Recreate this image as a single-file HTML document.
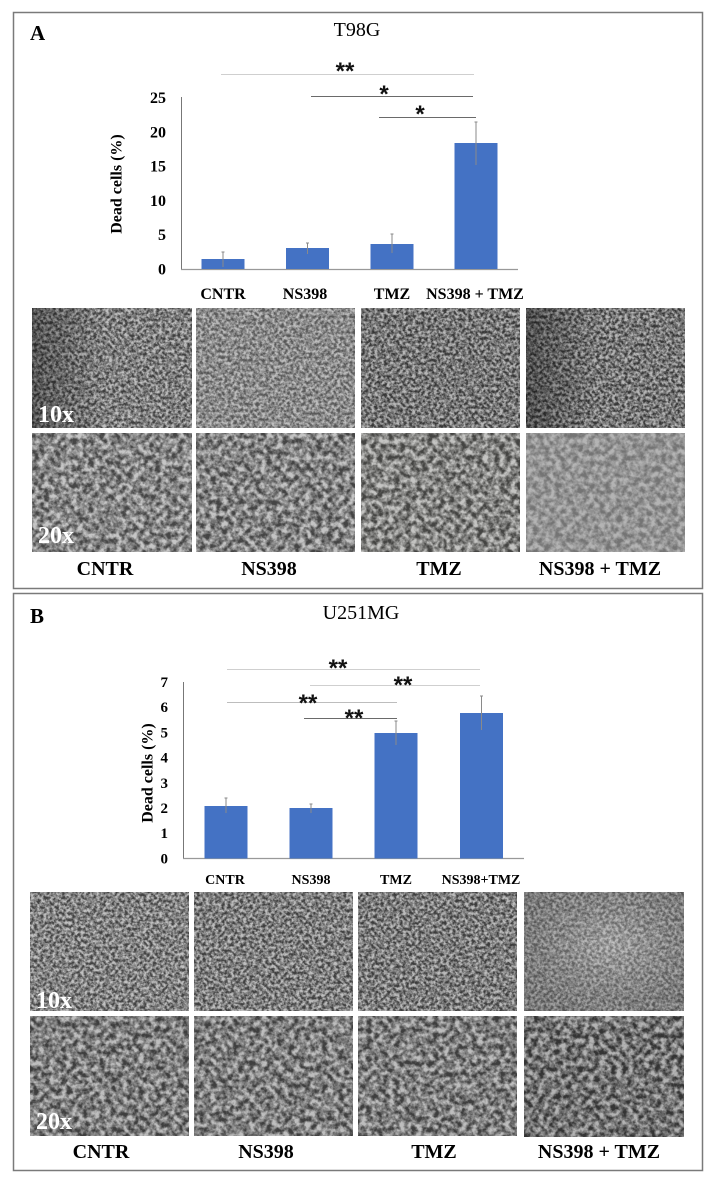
<!DOCTYPE html>
<html><head><meta charset="utf-8"><style>
html,body{margin:0;padding:0;background:#fff;}
svg{display:block;}
.ser{font-family:"Liberation Serif",serif;}
.b{font-weight:bold;}
.st{font-family:"Liberation Sans",sans-serif;font-weight:bold;font-size:24px;fill:#111;}
</style></head><body>
<svg width="712" height="1180" viewBox="0 0 712 1180" xmlns="http://www.w3.org/2000/svg">
<defs>
<filter id="nz" x="0" y="0" width="100%" height="100%" color-interpolation-filters="sRGB">
<feTurbulence type="fractalNoise" baseFrequency="0.32" numOctaves="3" seed="7"/>
<feColorMatrix type="matrix" values="2.4 0 0 0 -0.7  2.4 0 0 0 -0.7  2.4 0 0 0 -0.7  0 0 0 0 0.5"/>
</filter>
<filter id="nz2" x="0" y="0" width="100%" height="100%" color-interpolation-filters="sRGB">
<feTurbulence type="fractalNoise" baseFrequency="0.18" numOctaves="3" seed="21"/>
<feColorMatrix type="matrix" values="2.4 0 0 0 -0.7  2.4 0 0 0 -0.7  2.4 0 0 0 -0.7  0 0 0 0 0.5"/>
</filter>
<linearGradient id="dl" x1="0" y1="0" x2="1" y2="0">
<stop offset="0" stop-color="#000" stop-opacity="0.35"/><stop offset="0.45" stop-color="#000" stop-opacity="0"/>
</linearGradient>
<radialGradient id="lc" cx="0.55" cy="0.45" r="0.6">
<stop offset="0" stop-color="#fff" stop-opacity="0.18"/><stop offset="1" stop-color="#000" stop-opacity="0.12"/>
</radialGradient>
</defs>
<rect width="712" height="1180" fill="#fff"/>

<!-- Panel boxes -->
<rect x="13.5" y="12.5" width="689" height="576" fill="none" stroke="#7a7a7a" stroke-width="1.5"/>
<rect x="13.5" y="593.5" width="689" height="577" fill="none" stroke="#7a7a7a" stroke-width="1.5"/>

<!-- ================= PANEL A ================= -->
<text x="30" y="40" class="ser b" font-size="21">A</text>
<text x="357" y="36" class="ser" font-size="20" text-anchor="middle">T98G</text>

<line x1="221" y1="74.5" x2="474" y2="74.5" stroke="#cfcfcf" stroke-width="1"/>
<line x1="311" y1="96.5" x2="473" y2="96.5" stroke="#6a6a6a" stroke-width="1"/>
<line x1="379" y1="117.5" x2="476" y2="117.5" stroke="#6a6a6a" stroke-width="1"/>
<text x="345" y="79" class="st" text-anchor="middle">**</text>
<text x="384" y="102" class="st" text-anchor="middle">*</text>
<text x="420" y="122" class="st" text-anchor="middle">*</text>

<line x1="181.5" y1="97" x2="181.5" y2="269" stroke="#777" stroke-width="1"/>
<line x1="181" y1="269.5" x2="518" y2="269.5" stroke="#999" stroke-width="1.2"/>
<g class="ser b" font-size="16" text-anchor="end">
<text x="166" y="103">25</text>
<text x="166" y="137.3">20</text>
<text x="166" y="171.6">15</text>
<text x="166" y="205.9">10</text>
<text x="166" y="240.2">5</text>
<text x="166" y="274.5">0</text>
</g>
<text transform="translate(121.5,184) rotate(-90)" class="ser b" font-size="16" text-anchor="middle">Dead cells (%)</text>

<g fill="#4472c4">
<rect x="201.5" y="259" width="43" height="10"/>
<rect x="286" y="248" width="43" height="21"/>
<rect x="370.5" y="244" width="43" height="25"/>
<rect x="454.5" y="143" width="43" height="126"/>
</g>
<g stroke="#8a8a8a" stroke-width="1">
<line x1="223" y1="252" x2="223" y2="267"/><line x1="221.5" y1="252" x2="224.5" y2="252"/>
<line x1="307.5" y1="243" x2="307.5" y2="254"/><line x1="306" y1="243" x2="309" y2="243"/>
<line x1="392" y1="234" x2="392" y2="253"/><line x1="390.5" y1="234" x2="393.5" y2="234"/>
<line x1="476" y1="122" x2="476" y2="165"/><line x1="474.5" y1="122" x2="477.5" y2="122"/>
</g>
<g class="ser b" font-size="16" text-anchor="middle">
<text x="223" y="299">CNTR</text>
<text x="305" y="299">NS398</text>
<text x="392" y="299">TMZ</text>
<text x="475" y="299">NS398 + TMZ</text>
</g>

<!-- images A -->
<g>
<rect x="32" y="308" width="160" height="120" fill="#7e7e7e"/>
<rect x="32" y="308" width="160" height="120" filter="url(#nz)"/>
<rect x="32" y="308" width="160" height="120" fill="url(#dl)"/>
<rect x="196" y="308" width="159" height="120" fill="#929292"/>
<rect x="196" y="308" width="159" height="120" filter="url(#nz)" opacity="0.8"/>
<rect x="361" y="308" width="159" height="120" fill="#6e6e6e"/>
<rect x="361" y="308" width="159" height="120" filter="url(#nz)"/>
<rect x="526" y="308" width="159" height="120" fill="#6e6e6e"/>
<rect x="526" y="308" width="159" height="120" filter="url(#nz)"/>
<rect x="526" y="308" width="159" height="120" fill="url(#dl)"/>

<rect x="32" y="433" width="160" height="119" fill="#8c8c8c"/>
<rect x="32" y="433" width="160" height="119" filter="url(#nz2)"/>
<rect x="196" y="433" width="159" height="119" fill="#888"/>
<rect x="196" y="433" width="159" height="119" filter="url(#nz2)"/>
<rect x="361" y="433" width="159" height="119" fill="#888884"/>
<rect x="361" y="433" width="159" height="119" filter="url(#nz2)"/>
<rect x="526" y="433" width="159" height="119" fill="#9b9b9b"/>
<rect x="526" y="433" width="159" height="119" filter="url(#nz2)" opacity="0.5"/>
</g>
<text x="38" y="422" class="ser b" font-size="24" fill="#fff">10x</text>
<text x="38" y="543" class="ser b" font-size="24" fill="#fff">20x</text>

<g class="ser b" font-size="20" text-anchor="middle">
<text x="105" y="575">CNTR</text>
<text x="269" y="575">NS398</text>
<text x="439" y="575">TMZ</text>
<text x="600" y="575">NS398 + TMZ</text>
</g>

<!-- ================= PANEL B ================= -->
<text x="30" y="623" class="ser b" font-size="21">B</text>
<text x="361" y="619" class="ser" font-size="20" text-anchor="middle">U251MG</text>

<line x1="227" y1="669.5" x2="480" y2="669.5" stroke="#cfcfcf" stroke-width="1"/>
<line x1="310" y1="685.5" x2="480" y2="685.5" stroke="#cfcfcf" stroke-width="1"/>
<line x1="227" y1="702.5" x2="397" y2="702.5" stroke="#bdbdbd" stroke-width="1"/>
<line x1="304" y1="718.5" x2="397" y2="718.5" stroke="#6a6a6a" stroke-width="1"/>
<text x="338" y="676" class="st" text-anchor="middle">**</text>
<text x="403" y="693" class="st" text-anchor="middle">**</text>
<text x="308" y="711" class="st" text-anchor="middle">**</text>
<text x="354" y="726" class="st" text-anchor="middle">**</text>

<line x1="183.5" y1="682" x2="183.5" y2="858" stroke="#777" stroke-width="1"/>
<line x1="183" y1="858.5" x2="524" y2="858.5" stroke="#999" stroke-width="1.2"/>
<g class="ser b" font-size="15" text-anchor="end">
<text x="168" y="687">7</text>
<text x="168" y="712.2">6</text>
<text x="168" y="737.4">5</text>
<text x="168" y="762.6">4</text>
<text x="168" y="787.8">3</text>
<text x="168" y="813">2</text>
<text x="168" y="838.2">1</text>
<text x="168" y="863.4">0</text>
</g>
<text transform="translate(152.5,773) rotate(-90)" class="ser b" font-size="16" text-anchor="middle">Dead cells (%)</text>

<g fill="#4472c4">
<rect x="204.5" y="806" width="43" height="52.5"/>
<rect x="289.5" y="808" width="43" height="50.5"/>
<rect x="374.5" y="733" width="43" height="125.5"/>
<rect x="460" y="713" width="43" height="145.5"/>
</g>
<g stroke="#8a8a8a" stroke-width="1">
<line x1="226" y1="798" x2="226" y2="813"/><line x1="224.5" y1="798" x2="227.5" y2="798"/>
<line x1="311" y1="804" x2="311" y2="813"/><line x1="309.5" y1="804" x2="312.5" y2="804"/>
<line x1="396" y1="721" x2="396" y2="745"/><line x1="394.5" y1="721" x2="397.5" y2="721"/>
<line x1="481.5" y1="696" x2="481.5" y2="730"/><line x1="480" y1="696" x2="483" y2="696"/>
</g>
<g class="ser b" font-size="14" text-anchor="middle">
<text x="225" y="884">CNTR</text>
<text x="311" y="884">NS398</text>
<text x="396" y="884">TMZ</text>
<text x="481" y="884">NS398+TMZ</text>
</g>

<!-- images B -->
<g>
<rect x="30" y="892" width="159" height="119" fill="#838383"/>
<rect x="30" y="892" width="159" height="119" filter="url(#nz)"/>
<rect x="194" y="892" width="159" height="119" fill="#7d7d7d"/>
<rect x="194" y="892" width="159" height="119" filter="url(#nz)"/>
<rect x="358" y="892" width="159" height="119" fill="#787878"/>
<rect x="358" y="892" width="159" height="119" filter="url(#nz)"/>
<rect x="524" y="892" width="160" height="119" fill="#919191"/>
<rect x="524" y="892" width="160" height="119" filter="url(#nz)" opacity="0.7"/>
<rect x="524" y="892" width="160" height="119" fill="url(#lc)"/>

<rect x="30" y="1016" width="159" height="120" fill="#7c7c7c"/>
<rect x="30" y="1016" width="159" height="120" filter="url(#nz2)"/>
<rect x="194" y="1016" width="159" height="120" fill="#7d7d7d"/>
<rect x="194" y="1016" width="159" height="120" filter="url(#nz2)"/>
<rect x="358" y="1016" width="159" height="120" fill="#7b7b7b"/>
<rect x="358" y="1016" width="159" height="120" filter="url(#nz2)"/>
<rect x="524" y="1016" width="160" height="121" fill="#676767"/>
<rect x="524" y="1016" width="160" height="121" filter="url(#nz2)"/>
</g>
<text x="36" y="1008" class="ser b" font-size="24" fill="#fff">10x</text>
<text x="36" y="1129" class="ser b" font-size="24" fill="#fff">20x</text>

<g class="ser b" font-size="20" text-anchor="middle">
<text x="101" y="1158">CNTR</text>
<text x="266" y="1158">NS398</text>
<text x="434" y="1158">TMZ</text>
<text x="599" y="1158">NS398 + TMZ</text>
</g>
</svg>
</body></html>
